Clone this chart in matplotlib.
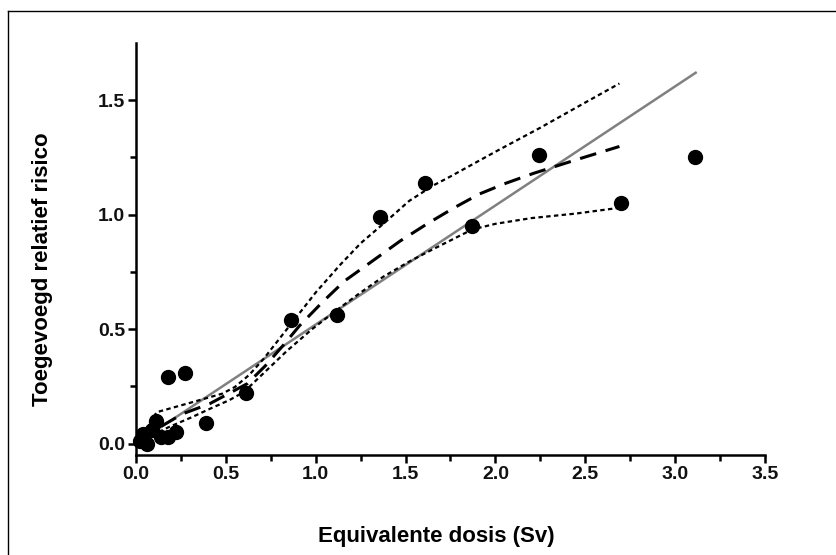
import numpy as np
import matplotlib.pyplot as plt
from matplotlib.lines import Line2D

plt.rcParams['font.family'] = ['Liberation Sans', 'DejaVu Sans']

# measured points
dose = [0.02, 0.04, 0.06, 0.09, 0.11, 0.14, 0.18, 0.18, 0.22, 0.27,
        0.39, 0.61, 0.86, 1.12, 1.36, 1.61, 1.87, 2.24, 2.70, 3.11]
risk = [0.01, 0.04, 0.00, 0.06, 0.10, 0.03, 0.03, 0.29, 0.05, 0.31,
        0.09, 0.22, 0.54, 0.56, 0.99, 1.14, 0.95, 1.26, 1.05, 1.25]

# linear fit
lin_x = [0.02, 3.12]
lin_y = [0.01, 1.623]

# central curve (long dashes)
mid_x = [0.02, 0.10, 0.26, 0.41, 0.62, 0.72, 0.82, 0.91, 1.04, 1.16, 1.32,
         1.47, 1.62, 1.77, 1.91, 2.05, 2.21, 2.45, 2.69]
mid_y = [0.01, 0.057, 0.13, 0.174, 0.262, 0.34, 0.43, 0.515, 0.62, 0.71, 0.80,
         0.885, 0.96, 1.03, 1.09, 1.135, 1.18, 1.24, 1.298]

# upper band (dotted)
up_x = [0.03, 0.115, 0.31, 0.48, 0.55, 0.63, 0.71, 0.79, 0.875, 1.0, 1.135,
        1.25, 1.376, 1.52, 1.655, 1.75, 2.0, 2.25, 2.5, 2.69]
up_y = [0.03, 0.137, 0.18, 0.218, 0.247, 0.30, 0.37, 0.45, 0.535, 0.66, 0.78,
        0.875, 0.96, 1.06, 1.128, 1.167, 1.275, 1.38, 1.49, 1.573]

# lower band (dotted)
lo_x = [0.05, 0.18, 0.31, 0.42, 0.52, 0.6, 0.7, 0.84, 0.98, 1.117, 1.25,
        1.376, 1.52, 1.655, 1.87, 2.0, 2.2, 2.45, 2.69]
lo_y = [0.02, 0.071, 0.115, 0.155, 0.19, 0.225, 0.30, 0.405, 0.50, 0.583, 0.66,
        0.729, 0.795, 0.85, 0.935, 0.96, 0.985, 1.005, 1.03]

fig = plt.figure(figsize=(8.37, 5.55), dpi=100)
ax = fig.add_axes([136/837, 100/555, 629/837, 412/555])

ax.plot(lin_x, lin_y, color='#808080', lw=1.8, solid_capstyle='butt')
ax.plot(mid_x, mid_y, color='black', lw=2.2, dashes=(5.5, 3.2))
ax.plot(up_x, up_y, color='black', lw=1.6, dashes=(2.0, 1.5))
ax.plot(lo_x, lo_y, color='black', lw=1.6, dashes=(2.0, 1.5))
ax.plot(dose, risk, 'o', color='black', ms=10, clip_on=False)

ax.set_xlim(0, 3.5)
ax.set_ylim(-0.05, 1.75)
ax.set_xticks(np.arange(0, 3.51, 0.5))
ax.set_xticks(np.arange(0.25, 3.5, 0.5), minor=True)
ax.set_yticks(np.arange(0, 1.51, 0.5))
ax.set_yticks(np.arange(0.25, 1.75, 0.5), minor=True)
ax.xaxis.set_major_formatter(plt.FormatStrFormatter('%.1f'))
ax.yaxis.set_major_formatter(plt.FormatStrFormatter('%.1f'))

for s in ['top', 'right']:
    ax.spines[s].set_visible(False)
for s in ['left', 'bottom']:
    ax.spines[s].set_linewidth(1.8)
ax.tick_params(which='major', length=6, width=1.8, labelsize=14, pad=2)
ax.tick_params(which='minor', length=4, width=1.8)
for lab in ax.get_xticklabels() + ax.get_yticklabels():
    lab.set_fontweight('bold')
    lab.set_color('#111111')

ax.set_xlabel('Equivalente dosis (Sv)', fontsize=16, fontweight='bold')
ax.set_ylabel('Toegevoegd relatief risico', fontsize=16, fontweight='bold')
ax.xaxis.set_label_coords(0.478, -0.172)
ax.yaxis.set_label_coords(-0.132, 0.45)

# frame on left and top
fig.add_artist(Line2D([8/837, 8/837], [0, 1 - 11/555], color='black', lw=1.0))
fig.add_artist(Line2D([8/837, 1], [1 - 11/555, 1 - 11/555], color='black', lw=1.0))

fig.savefig('out.png', dpi=100)
